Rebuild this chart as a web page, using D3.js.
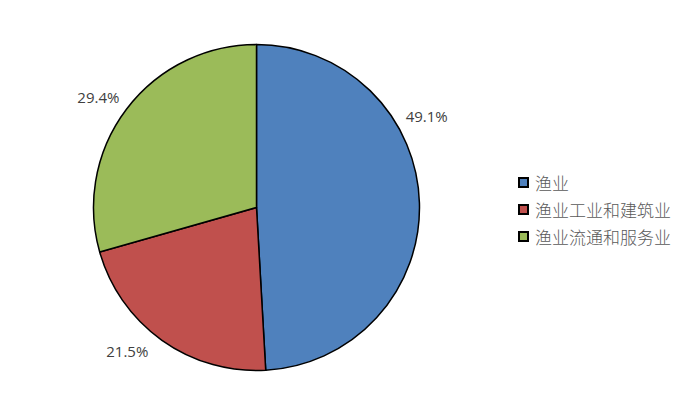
<!DOCTYPE html>
<html><head><meta charset="utf-8">
<script src="https://cdn.jsdelivr.net/npm/d3@7"></script>
<style>body{margin:0;background:#fff;}svg{display:block;}</style>
</head><body>
<svg id="c" width="692" height="416"></svg>
<script>
const categories = ["渔业", "渔业工业和建筑业", "渔业流通和服务业"];
const values = [49.1, 21.5, 29.4];
const labels = ["49.1%", "21.5%", "29.4%"];
const colors = ["#4F81BD", "#C0504D", "#9BBB59"];
const labelFrac = [0.35, 0.585, 0.48];

const svg = d3.select("#c");
const cx = 256.5, cy = 207.5, r = 163;
const g = svg.append("g").attr("transform", `translate(${cx},${cy})`);
const pie = d3.pie().sort(null).value(d => d)(values);
const arc = d3.arc().innerRadius(0).outerRadius(r);
g.selectAll("path").data(pie).join("path")
  .attr("d", arc).attr("fill", (d, i) => colors[i])
  .attr("stroke", "#000").attr("stroke-width", 1.5).attr("stroke-linejoin", "round");

const lr = 193;
g.selectAll("text").data(pie).join("text")
  .attr("transform", (d, i) => {
    const a = d.startAngle + (d.endAngle - d.startAngle) * labelFrac[i];
    return `translate(${lr * Math.sin(a)},${-lr * Math.cos(a)})`;
  })
  .attr("text-anchor", "middle").attr("dominant-baseline", "central")
  .attr("font-family", "'Open Sans', 'Noto Sans', sans-serif").attr("font-size", 15)
  .attr("fill", "#404040").text((d, i) => labels[i]);

const lg = svg.append("g").attr("transform", "translate(518,177)");
const items = lg.selectAll("g").data(categories).join("g")
  .attr("transform", (d, i) => `translate(0,${i * 27})`);
items.append("rect").attr("x", 1).attr("y", 1).attr("width", 9).attr("height", 9)
  .attr("fill", (d, i) => colors[i]).attr("stroke", "#000").attr("stroke-width", 2);
items.append("text").attr("x", 17).attr("y", 5.5).attr("dominant-baseline", "central")
  .attr("font-family", "'Noto Sans CJK SC', sans-serif").attr("font-size", 17)
  .attr("font-weight", 300)
  .attr("fill", "#595959").text(d => d);
</script>
</body></html>
